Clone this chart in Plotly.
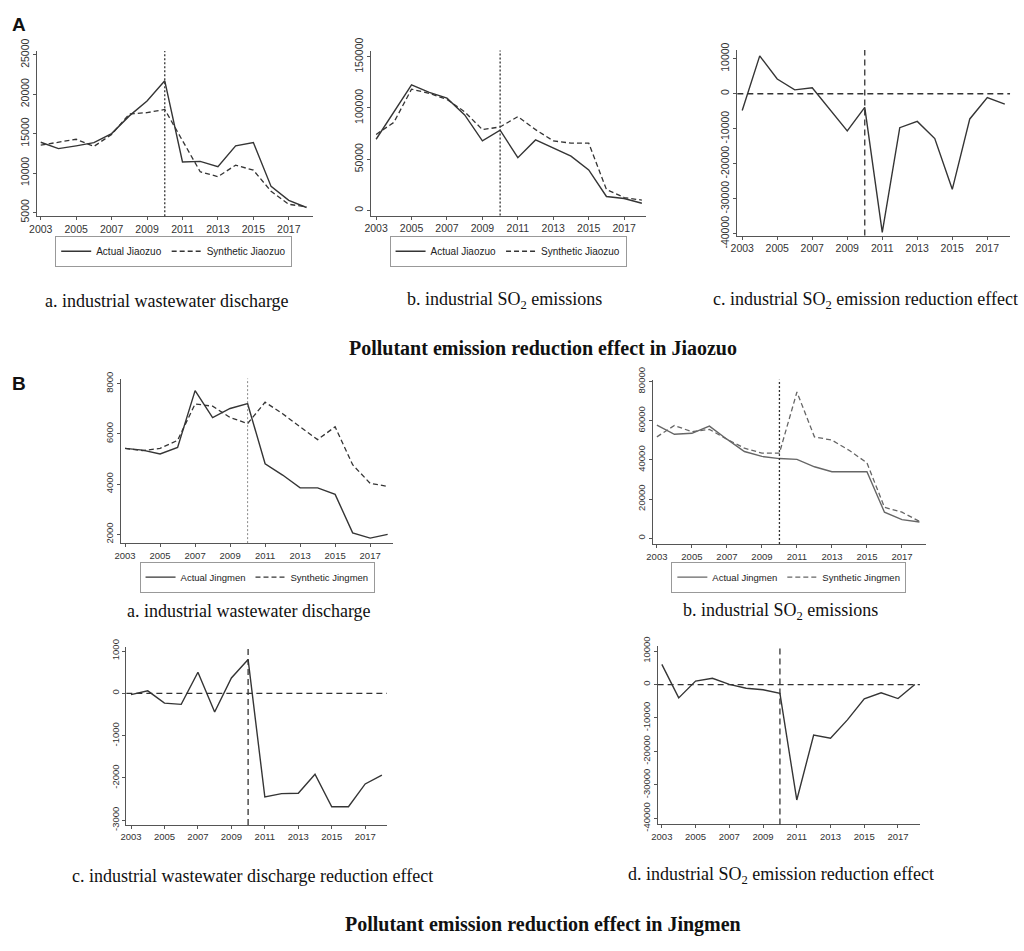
import plotly.graph_objects as go

W, H = 1024, 951

YEARS = [2003, 2004, 2005, 2006, 2007, 2008, 2009, 2010, 2011, 2012, 2013, 2014, 2015, 2016, 2017, 2018]
X_TICKS = [2003, 2005, 2007, 2009, 2011, 2013, 2015, 2017]
TREATMENT_YEAR = 2010

# Panel A: Jiaozuo
jz_ww_actual = [13900, 13100, 13450, 13850, 15000, 17250, 19150, 21700, 11400, 11480, 10800, 13450, 13870, 8300, 6530, 5620]
jz_ww_synth = [13540, 13870, 14280, 13370, 14900, 17500, 17660, 18070, 14070, 10160, 9540, 11000, 10360, 7680, 6030, 5700]
jz_so2_actual = [69500, 96300, 122500, 115300, 109600, 93200, 67900, 78300, 51500, 68800, 61000, 53000, 39500, 13600, 11700, 7000]
jz_so2_synth = [74200, 85900, 118400, 114300, 108300, 96300, 78900, 81500, 91600, 78900, 67900, 65700, 65700, 20500, 12600, 10100]
jz_so2_effect = [-4800, 10800, 4200, 1100, 1700, -4600, -10600, -3900, -39600, -9700, -7900, -12800, -27300, -7200, -1100, -2960]

# Panel B: Jingmen
jm_ww_actual = [5420, 5350, 5200, 5460, 7720, 6650, 7010, 7200, 4810, 4360, 3850, 3850, 3590, 2060, 1850, 2000]
jm_ww_synth = [5420, 5330, 5420, 5740, 7190, 7100, 6650, 6410, 7260, 6800, 6280, 5770, 6280, 4770, 4030, 3910]
jm_so2_actual = [57800, 53100, 53600, 57300, 50600, 44300, 41800, 40700, 40300, 36500, 34000, 34000, 34000, 13300, 9500, 8300]
jm_so2_synth = [51800, 57600, 54400, 55600, 50600, 46000, 43500, 43500, 74700, 51800, 50100, 44800, 38500, 15800, 13300, 8600]
jm_ww_effect = [-30, 60, -230, -260, 500, -440, 365, 800, -2450, -2370, -2360, -1910, -2680, -2680, -2140, -1930]
jm_so2_effect = [6040, -4000, 1020, 1870, 60, -1100, -1580, -2650, -34500, -15100, -16060, -10560, -4290, -2450, -4190, 0]

Y_TICKS_A_WW = [5000, 10000, 15000, 20000, 25000]
Y_TICKS_A_SO2 = [0, 50000, 100000, 150000]
Y_TICKS_A_EFF = [-40000, -30000, -20000, -10000, 0, 10000]
Y_TICKS_B_WW = [2000, 4000, 6000, 8000]
Y_TICKS_B_SO2 = [0, 20000, 40000, 60000, 80000]
Y_TICKS_B_WWEFF = [-3000, -2000, -1000, 0, 1000]
Y_TICKS_B_SO2EFF = [-40000, -30000, -20000, -10000, 0, 10000]


def dom_x(v0, p0, v1, p1, rng):
    s = (p1 - p0) / (v1 - v0)
    return [(p0 + (rng[0] - v0) * s) / W, (p0 + (rng[1] - v0) * s) / W]


def dom_y(v0, p0, v1, p1, rng):
    s = (p1 - p0) / (v1 - v0)
    bottom = p0 + (rng[0] - v0) * s
    top = p0 + (rng[1] - v0) * s
    return [1 - bottom / H, 1 - top / H]


# axis calibration (value, pixel) pairs and ranges for each panel
panels = [
    dict(xc=(2003, 33, 2017, 283), yc=(25000, 43, 5000, 205), xr=[2002.78, 2018.35], yr=[4500, 25500], yt=Y_TICKS_A_WW, fs=10.5),
    dict(xc=(2003, 371, 2017, 621), yc=(150000, 45, 0, 203), xr=[2002.74, 2018.25], yr=[-5000, 156000], yt=Y_TICKS_A_SO2, fs=10.5),
    dict(xc=(2003, 740, 2017, 987), yc=(10000, 47, -40000, 227), xr=[2002.72, 2018.3], yr=[-40500, 12500], yt=Y_TICKS_A_EFF, fs=10.5),
    dict(xc=(2003, 118, 2017, 365), yc=(8000, 381, 2000, 536), xr=[2002.78, 2018.3], yr=[1650, 8200], yt=Y_TICKS_B_WW, fs=9.5),
    dict(xc=(2003, 654, 2017, 901), yc=(80000, 379, 0, 540), xr=[2002.78, 2018.4], yr=[-3000, 81000], yt=Y_TICKS_B_SO2, fs=9.5),
    dict(xc=(2003, 124, 2017, 360), yc=(1000, 656, -3000, 830), xr=[2002.72, 2018.3], yr=[-3110, 1100], yt=Y_TICKS_B_WWEFF, fs=9.5),
    dict(xc=(2003, 659, 2017, 897), yc=(10000, 656, -40000, 828), xr=[2002.75, 2018.3], yr=[-41800, 11500], yt=Y_TICKS_B_SO2EFF, fs=9.5),
]

fig = go.Figure()
AX = '#555555'
LINE = '#353535'
layout = {}
for i, p in enumerate(panels, start=1):
    sfx = '' if i == 1 else str(i)
    layout['xaxis' + sfx] = dict(
        domain=dom_x(*p['xc'], p['xr']), range=p['xr'], anchor='y' + sfx,
        tickvals=X_TICKS, ticktext=[str(v) for v in X_TICKS],
        showline=True, linecolor=AX, linewidth=1, ticks='outside', ticklen=3, tickcolor=AX,
        showgrid=False, zeroline=False, tickfont=dict(family='Liberation Sans', size=p['fs'], color='#333'),
    )
    layout['yaxis' + sfx] = dict(
        domain=dom_y(*p['yc'], p['yr']), range=p['yr'], anchor='x' + sfx,
        tickvals=p['yt'], ticktext=[str(v) for v in p['yt']], tickangle=-90,
        showline=True, linecolor=AX, linewidth=1, ticks='outside', ticklen=3, tickcolor=AX,
        showgrid=False, zeroline=False, tickfont=dict(family='Liberation Sans', size=p['fs'], color='#333'),
    )


def ax(i):
    return ('x' if i == 1 else 'x%d' % i), ('y' if i == 1 else 'y%d' % i)


def add_pair(i, actual, synth, name_a, name_s, leg, color=LINE):
    xa, ya = ax(i)
    fig.add_trace(go.Scatter(x=YEARS, y=actual, mode='lines', name=name_a, xaxis=xa, yaxis=ya,
                             line=dict(color=color, width=1.4), legend=leg))
    fig.add_trace(go.Scatter(x=YEARS, y=synth, mode='lines', name=name_s, xaxis=xa, yaxis=ya,
                             line=dict(color=color, width=1.3, dash='5px,3px'), legend=leg))


def add_single(i, vals):
    xa, ya = ax(i)
    fig.add_trace(go.Scatter(x=YEARS, y=vals, mode='lines', xaxis=xa, yaxis=ya, showlegend=False,
                             line=dict(color=LINE, width=1.4)))


add_pair(1, jz_ww_actual, jz_ww_synth, 'Actual Jiaozuo', 'Synthetic Jiaozuo', 'legend')
add_pair(2, jz_so2_actual, jz_so2_synth, 'Actual Jiaozuo', 'Synthetic Jiaozuo', 'legend2')
add_single(3, jz_so2_effect)
add_pair(4, jm_ww_actual, jm_ww_synth, 'Actual Jingmen', 'Synthetic Jingmen', 'legend3')
add_pair(5, jm_so2_actual, jm_so2_synth, 'Actual Jingmen', 'Synthetic Jingmen', 'legend4', color='#666666')
add_single(6, jm_ww_effect)
add_single(7, jm_so2_effect)

# treatment-year reference lines
for i, dash in [(1, '2px,2px'), (2, '2px,2px'), (3, '6px,4px'), (4, '2px,2px'), (5, '2px,2px'), (6, '6px,4px'), (7, '6px,4px')]:
    xa, ya = ax(i)
    fig.add_shape(type='line', xref=xa, yref=ya + ' domain', x0=TREATMENT_YEAR, x1=TREATMENT_YEAR, y0=0, y1=1,
                  line=dict(color='#333' if i != 4 else '#888', width=1.3 if i != 4 else 1, dash=dash))
# zero lines for effect panels
for i in (3, 6, 7):
    xa, ya = ax(i)
    fig.add_shape(type='line', xref=xa + ' domain', yref=ya, x0=0, x1=1, y0=0, y1=0,
                  line=dict(color='#333', width=1.3, dash='6px,4px'))


def leg(cx, top, fs):
    return dict(orientation='h', x=cx / W, xanchor='center', y=1 - top / H, yanchor='top',
                bordercolor='#999', borderwidth=1, bgcolor='rgba(255,255,255,0)',
                font=dict(family='Liberation Sans', size=fs, color='#222'),
                itemwidth=30, tracegroupgap=0)


layout['legend'] = leg(167, 229, 10)
layout['legend2'] = leg(504, 229, 10)
layout['legend3'] = leg(251, 564, 9.5)
layout['legend4'] = leg(787, 564, 9.5)

ann = []
SERIF = 'Liberation Serif'


def cap(text, cx, cy, size=18, bold=False):
    ann.append(dict(text=('<b>%s</b>' % text) if bold else text, x=cx / W, y=1 - cy / H, xref='paper', yref='paper',
                    showarrow=False, xanchor='center', yanchor='middle', font=dict(family=SERIF, size=size, color='#111')))


cap('a. industrial wastewater discharge', 160, 296)
cap('b. industrial SO<sub>2</sub> emissions', 500, 296)
cap('c. industrial SO<sub>2</sub> emission reduction effect', 864, 296)
cap('Pollutant emission reduction effect in Jiaozuo', 539, 344, 20, True)
cap('a. industrial wastewater discharge', 243, 615)
cap('b. industrial SO<sub>2</sub> emissions', 779, 615)
cap('c. industrial wastewater discharge reduction effect', 246, 887)
cap('d. industrial SO<sub>2</sub> emission reduction effect', 779, 887)
cap('Pollutant emission reduction effect in Jingmen', 539, 937, 20, True)

for lab, y in [('A', 12), ('B', 381)]:
    ann.append(dict(text='<b>%s</b>' % lab, x=2 / W, y=1 - y / H, xref='paper', yref='paper', showarrow=False,
                    xanchor='left', yanchor='middle', font=dict(family='Liberation Sans', size=19, color='#111')))

fig.update_layout(**layout)
fig.update_layout(width=W, height=H, margin=dict(l=0, r=0, t=0, b=0), paper_bgcolor='white', plot_bgcolor='white',
                  annotations=ann, showlegend=True)
fig.write_html('out.html', config={'displayModeBar': False}, post_script="document.body.style.margin='0';")
